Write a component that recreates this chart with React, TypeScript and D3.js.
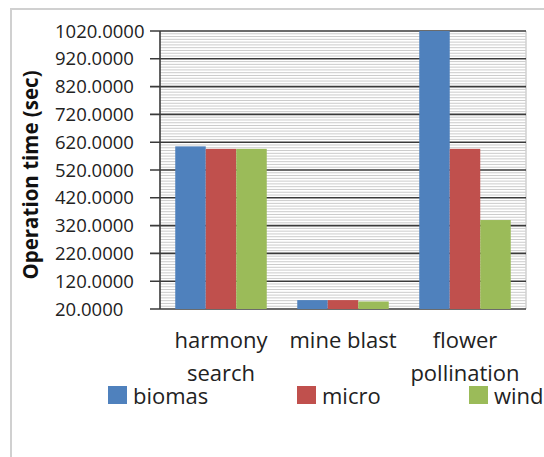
import React from "react";
import * as d3 from "d3";

const categories = ["harmony search", "mine blast", "flower pollination"];
const categoryLines = [["harmony", "search"], ["mine blast"], ["flower", "pollination"]];
const seriesNames = ["biomas", "micro", "wind"];
const biomas = [605, 52, 1020];
const micro = [596, 52, 596];
const wind = [596, 47, 340];
const seriesValues = [biomas, micro, wind];
const seriesColors = ["#4f81bd", "#c0504d", "#9bbb59"];
const yMin = 20;
const yMax = 1020;
const majorStep = 100;
const minorStep = 10;

const W = 544;
const H = 457;
const plot = { left: 160, right: 526, top: 31, bottom: 309 };
const FONT = "'Open Sans', 'Liberation Sans', sans-serif";

export default function App() {
  const y = d3.scaleLinear().domain([yMin, yMax]).range([plot.bottom, plot.top]);
  const x = d3
    .scaleBand<string>()
    .domain(categories)
    .range([plot.left, plot.right])
    .paddingInner(0.25)
    .paddingOuter(0.125);
  const xs = d3
    .scaleBand<string>()
    .domain(seriesNames)
    .range([0, x.bandwidth()])
    .padding(0);

  const majorTicks = d3.range(yMin, yMax + 1, majorStep);
  const minorTicks = d3.range(yMin, yMax, minorStep).filter((v) => (v - yMin) % majorStep !== 0);

  return (
    <svg
      width={W}
      height={H}
      style={{ position: "absolute", left: 0, top: 0, background: "#fff" }}
      fontFamily={FONT}
    >
      {/* chart frame */}
      <line x1={10} y1={9} x2={W} y2={9} stroke="#d0d0d0" strokeWidth={2} />
      <line x1={11} y1={9} x2={11} y2={H} stroke="#d0d0d0" strokeWidth={2} />

      {/* minor gridlines */}
      {minorTicks.map((v) => (
        <line
          key={"m" + v}
          x1={plot.left}
          x2={plot.right}
          y1={y(v)}
          y2={y(v)}
          stroke="#cbcbcb"
          strokeWidth={1}
        />
      ))}
      <line x1={plot.right} x2={plot.right} y1={plot.top} y2={plot.bottom} stroke="#d0d0d0" strokeWidth={1.5} />

      {/* major gridlines with tick marks */}
      {majorTicks.map((v) => (
        <line
          key={"g" + v}
          x1={plot.left - 10}
          x2={plot.right}
          y1={y(v)}
          y2={y(v)}
          stroke="#3a3a3a"
          strokeWidth={1.6}
        />
      ))}

      {/* bars */}
      {categories.map((c, ci) =>
        seriesNames.map((s, si) => {
          const v = seriesValues[si][ci];
          const x0 = (x(c) ?? 0) + (xs(s) ?? 0);
          return (
            <rect
              key={c + s}
              x={x0}
              y={y(v)}
              width={xs.bandwidth()}
              height={y(yMin) - y(v)}
              fill={seriesColors[si]}
            />
          );
        })
      )}

      {/* y axis line */}
      <line x1={plot.left} x2={plot.left} y1={plot.top} y2={plot.bottom} stroke="#3a3a3a" strokeWidth={1.6} />

      {/* y tick labels */}
      {majorTicks.map((v) => (
        <text key={"t" + v} x={55} y={y(v)} dy="0.36em" fontSize={18.5} fill="#222">
          {d3.format(".4f")(v)}
        </text>
      ))}

      {/* y axis title */}
      <text
        transform={`translate(38,175) rotate(-90)`}
        textAnchor="middle"
        fontSize={20.5}
        fontWeight="bold"
        fill="#111"
      >
        Operation time (sec)
      </text>

      {/* category labels */}
      {categories.map((c, ci) =>
        categoryLines[ci].map((line, li) => (
          <text
            key={c + li}
            x={(x(c) ?? 0) + x.bandwidth() / 2}
            y={348 + li * 33}
            textAnchor="middle"
            fontSize={22}
            fill="#222"
          >
            {line}
          </text>
        ))
      )}

      {/* legend */}
      {seriesNames.map((s, si) => {
        const lx = [108, 297, 469][si];
        return (
          <g key={"l" + s}>
            <rect x={lx} y={386} width={19} height={18} fill={seriesColors[si]} />
            <text x={lx + 25} y={404} fontSize={22} fill="#222">
              {s}
            </text>
          </g>
        );
      })}
    </svg>
  );
}
